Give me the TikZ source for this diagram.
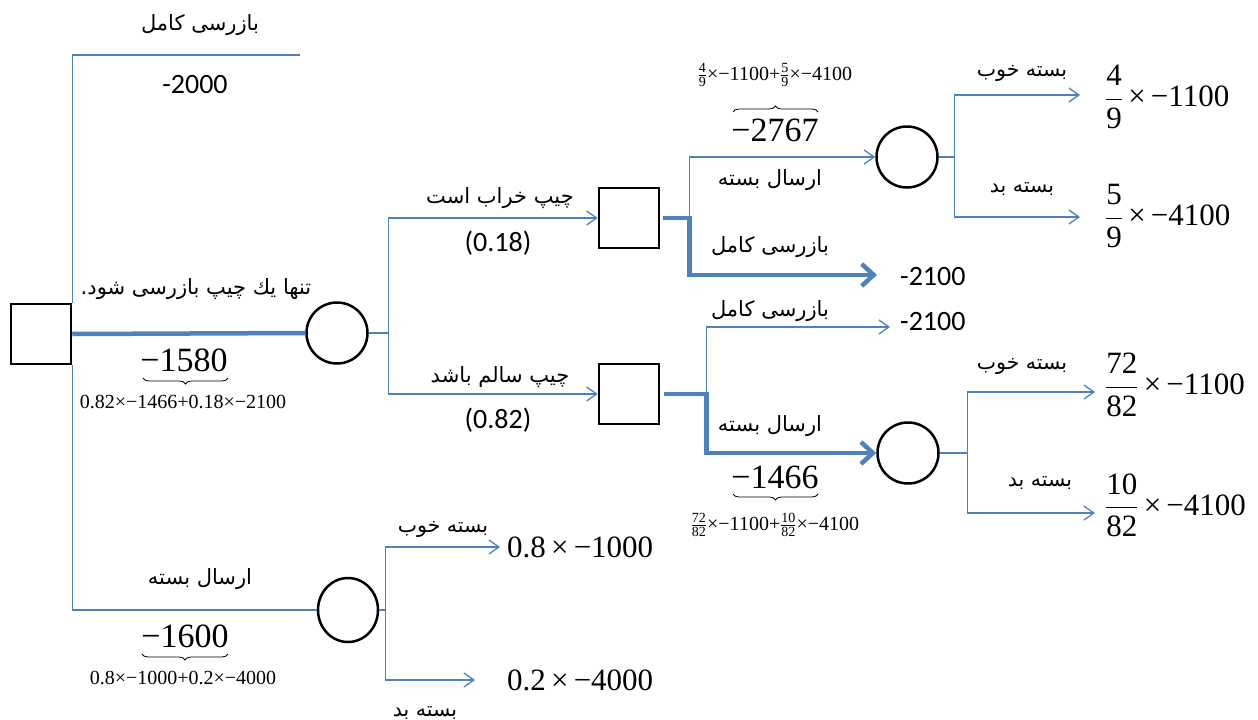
\RequirePackage{fix-cm}
\documentclass[tikz,border=0pt]{standalone}
\usepackage{amsmath}
\usepackage{fontspec}
\setmainfont{Liberation Serif}
\newfontfamily\arfont[Script=Arabic]{DejaVu Sans}
\newfontfamily\numfont{Carlito}
\TeXXeTstate=1
\usetikzlibrary{arrows.meta,shapes.geometric,decorations.pathreplacing}
\definecolor{bl}{RGB}{79,129,189}
\newcommand{\fatext}[1]{\beginR #1\endR}
\newcommand{\lr}[1]{\beginL #1\endL}
\newcommand{\tn}[1]{\text{#1}}
\newcommand{\negnum}[1]{\beginL\mbox{-}\mbox{#1}\endL}
\tikzset{
  dec/.style={draw=black, line width=2.5pt, minimum size=60pt, inner sep=0pt},
  chance/.style={circle, draw=black, line width=2.5pt, minimum size=61pt, inner sep=0pt},
  brn/.style={draw=bl, line width=1.3pt},
  br/.style={brn, -{Straight Barb[length=10pt,width=14pt]}},
  thk/.style={draw=bl, line width=4.5pt, line join=miter},
  thka/.style={thk, -{Straight Barb[length=12pt,width=22pt]}},
  ar/.style={inner sep=0pt, font=\arfont\fontsize{21}{24}\selectfont},
  arsm/.style={inner sep=0pt, font=\arfont\fontsize{20.5}{23}\selectfont},
  num/.style={inner sep=0pt, font=\numfont\fontsize{28}{32}\selectfont},
  big/.style={inner sep=0pt, font=\fontsize{34}{38}\selectfont},
  val/.style={inner sep=0pt, anchor=west, font=\fontsize{31}{34}\selectfont},
  expr/.style={inner sep=0pt, font=\fontsize{20}{22}\selectfont},
  brc/.style={draw=black, line width=0.8pt, decorate, decoration={brace, amplitude=6pt}},
  brcm/.style={brc, decoration={brace, amplitude=6pt, mirror}}
}
\begin{document}
\begin{tikzpicture}[x=1pt,y=-1pt]
\useasboundingbox (0,0) rectangle (1258,720);

% decision and chance nodes
\node[dec] (sq1) at (41,334) {};
\node[chance] (ch1) at (337,333) {};
\node[dec] (sq2) at (629,218) {};
\node[chance] (ch2) at (907,157) {};
\node[dec] (sq3) at (629,394) {};
\node[chance] (ch3) at (908,453) {};
\node[chance, shape=ellipse, minimum width=60pt, minimum height=64pt] (ch4) at (348,610) {};

% free ends of branches
\coordinate (topEnd) at (300,55);
\coordinate (endA) at (877,275);
\coordinate (endB) at (1080,95);
\coordinate (endC) at (1080,217);
\coordinate (endD) at (890,327);
\coordinate (endE) at (1095,392);
\coordinate (endF) at (1095,513);
\coordinate (endG) at (500,547);
\coordinate (endH) at (475,680);

% branches
\draw[brn] (topEnd) -| (sq1.north east);
\draw[brn] (sq1.south east) |- (ch4.west);
\draw[thk] (sq1.east) -- (ch1.west);
\draw[br] (ch1.east) -- ++(20,0) |- (sq2.west);
\draw[br] (ch1.east) ++(20,0) |- (sq3.west);
\draw[thka] (sq2.east) ++(3,0) -- ++(26,0) |- (endA);
\draw[br] (sq2.east) ++(29,0) |- (ch2.west);
\draw[br] (ch2.east) -- ++(16,0) |- (endB);
\draw[br] (ch2.east) ++(16,0) |- (endC);
\draw[thka] (sq3.east) ++(4,0) -- ++(42,0) |- (ch3.west);
\draw[br] (sq3.east) ++(46,0) |- (endD);
\draw[br] (ch3.east) -- ++(28,0) |- (endE);
\draw[br] (ch3.east) ++(28,0) |- (endF);
\draw[br] (ch4.east) -- ++(6,0) |- (endG);
\draw[br] (ch4.east) ++(6,0) |- (endH);

% top branch
\node[ar] (l1) at (200,25) {\fatext{بازرسی کامل}};
\node[num] (n2000) at (195,85) {\negnum{2000}};

% main branch
\node[ar] (l2) at (196,289) {\fatext{تنها یك چیپ بازرسی شود.}};
\node[big] (v1580) at (184,360) {\lr{−1580}};
\draw[brcm] (143,378) -- (228,378);
\node[expr] (e1580) at (183,402) {\lr{0.82×−1466+0.18×−2100}};

% chip states
\node[ar] (l3) at (500,198) {\fatext{چیپ خراب است}};
\node[num] (p018) at (498,243) {\lr{(0.18)}};
\node[ar] (l4) at (500,377) {\fatext{چیپ سالم باشد}};
\node[num] (p082) at (498,420) {\lr{(0.82)}};

% faulty chip
\node[expr] (e2767) at (775,75) {$\frac{\tn{4}}{\tn{9}}$\lr{×−1100+}$\frac{\tn{5}}{\tn{9}}$\lr{×−4100}};
\draw[brc] (733,112) -- (818,112);
\node[big] (v2767) at (775,130) {\lr{−2767}};
\node[ar] (l5) at (770,180) {\fatext{ارسال بسته}};
\node[ar] (l6) at (770,247) {\fatext{بازرسی کامل}};
\node[num, anchor=west] (n2100a) at (900,277) {\negnum{2100}};
\node[arsm] (l7) at (1022,73) {\fatext{بسته خوب}};
\node[arsm] (l8) at (1022,189) {\fatext{بسته بد}};
\node[val] (va) at (1105,97) {$\dfrac{\tn{4}}{\tn{9}}$\lr{\thinspace×\thinspace−1100}};
\node[val] (vb) at (1105,216) {$\dfrac{\tn{5}}{\tn{9}}$\lr{\thinspace×\thinspace−4100}};

% healthy chip
\node[ar] (l9) at (770,311) {\fatext{بازرسی کامل}};
\node[num, anchor=west] (n2100b) at (900,322) {\negnum{2100}};
\node[ar] (l10) at (770,426) {\fatext{ارسال بسته}};
\node[big] (v1466) at (775,477) {\lr{−1466}};
\draw[brcm] (733,494) -- (818,494);
\node[expr] (e1466) at (775,525) {$\frac{\tn{72}}{\tn{82}}$\lr{×−1100+}$\frac{\tn{10}}{\tn{82}}$\lr{×−4100}};
\node[arsm] (l11) at (1022,366) {\fatext{بسته خوب}};
\node[arsm] (l12) at (1040,483) {\fatext{بسته بد}};
\node[val] (vc) at (1105,385) {$\dfrac{\tn{72}}{\tn{82}}$\lr{\thinspace×\thinspace−1100}};
\node[val] (vd) at (1105,505) {$\dfrac{\tn{10}}{\tn{82}}$\lr{\thinspace×\thinspace−4100}};

% ship without inspection
\node[ar] (l13) at (200,579) {\fatext{ارسال بسته}};
\node[big] (v1600) at (185,636) {\lr{−1600}};
\draw[brcm] (142,654) -- (228,654);
\node[expr] (e1600) at (183,678) {\lr{0.8×−1000+0.2×−4000}};
\node[arsm] (l14) at (443,529) {\fatext{بسته خوب}};
\node[arsm] (l15) at (425,713) {\fatext{بسته بد}};
\node[val] (ve) at (507,547) {\lr{0.8\thinspace×\thinspace−1000}};
\node[val] (vf) at (507,680) {\lr{0.2\thinspace×\thinspace−4000}};
\end{tikzpicture}
\end{document}
